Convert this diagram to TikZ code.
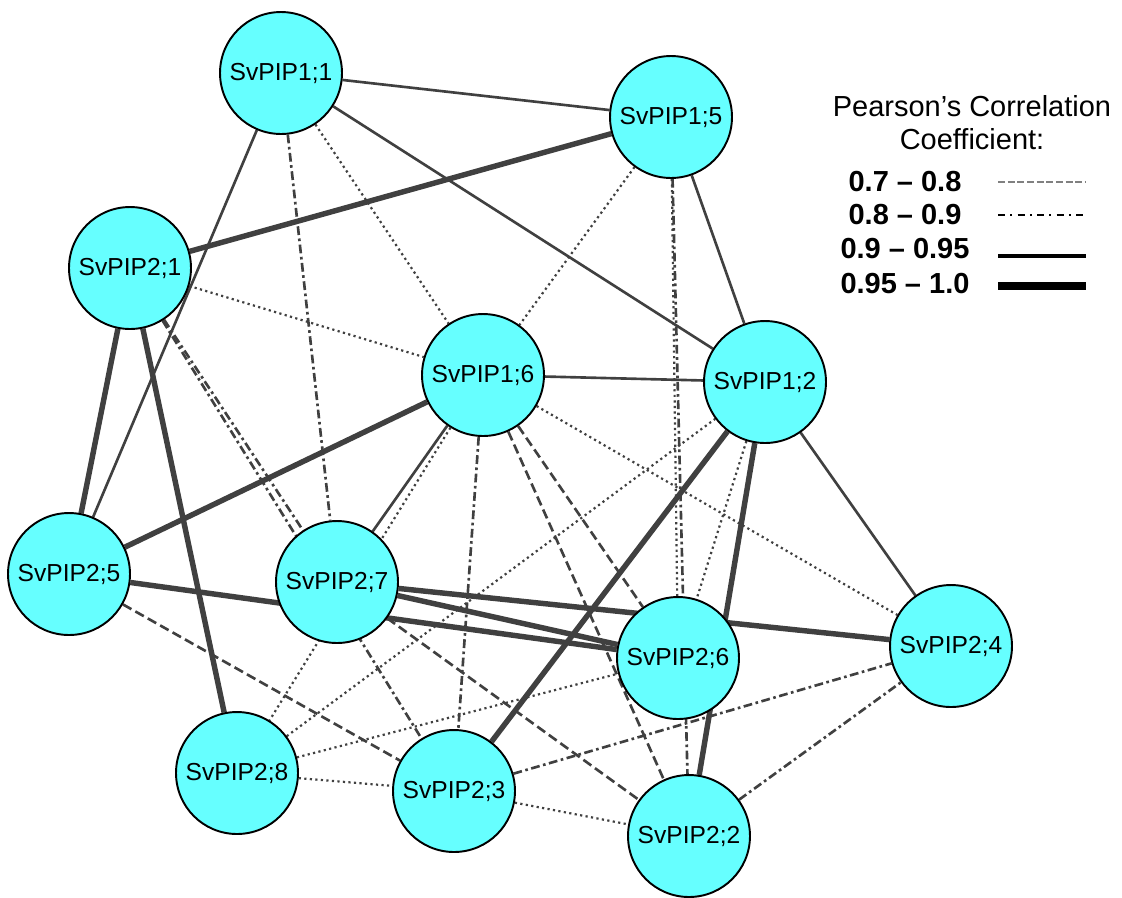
\documentclass[tikz,border=0pt]{standalone}
\usepackage{fontspec}
\setmainfont{Liberation Sans}
\usetikzlibrary{backgrounds}

\definecolor{pipcyan}{RGB}{102,255,255}
\definecolor{edgegray}{RGB}{64,64,64}

\tikzset{
  pip/.style={circle, draw=black, line width=1.1pt, fill=pipcyan, minimum size=2.44cm, inner sep=0pt, font=\fontsize{14}{16}\selectfont},
  thickedge/.style={draw=edgegray, line width=3.1pt},
  solidedge/.style={draw=edgegray, line width=1.5pt},
  dotedge/.style={draw=edgegray, line width=1.25pt, dash pattern=on 1.25pt off 1.9pt},
  dashedge/.style={draw=edgegray, line width=1.5pt, dash pattern=on 5.5pt off 2.6pt},
  dashdotedge/.style={draw=edgegray, line width=1.5pt, dash pattern=on 5pt off 2pt on 1.5pt off 2pt},
  leglabel/.style={font=\bfseries\fontsize{16.5}{19}\selectfont}
}

\begin{document}
\begin{tikzpicture}[x=0.02cm, y=-0.02cm]
\useasboundingbox (0,0) rectangle (1122,897);

\node[pip] (p11) at (281,73) {SvPIP1;1};
\node[pip] (p15) at (671,117) {SvPIP1;5};
\node[pip] (p21) at (130,268) {SvPIP2;1};
\node[pip] (p16) at (483,375) {SvPIP1;6};
\node[pip] (p12) at (765,382) {SvPIP1;2};
\node[pip] (p25) at (69,574) {SvPIP2;5};
\node[pip] (p27) at (337,582) {SvPIP2;7};
\node[pip] (p26) at (678,658) {SvPIP2;6};
\node[pip] (p24) at (951,646) {SvPIP2;4};
\node[pip] (p28) at (237,773) {SvPIP2;8};
\node[pip] (p23) at (454,791) {SvPIP2;3};
\node[pip] (p22) at (689,836) {SvPIP2;2};

\begin{scope}[on background layer]
\draw[thickedge] (p21) -- (p15);
\draw[thickedge] (p21) -- (p25);
\draw[thickedge] (p21) -- (p28);
\draw[thickedge] (p25) -- (p16);
\draw[thickedge] (p25) -- (p26);
\draw[thickedge] (p27) -- (p26);
\draw[thickedge] (p27) -- (p24);
\draw[thickedge] (p12) -- (p22);
\draw[thickedge] (p12) -- (p23);

\draw[solidedge] (p11) -- (p15);
\draw[solidedge] (p11) -- (p12);
\draw[solidedge] (p11) -- (p25);
\draw[solidedge] (p15) -- (p12);
\draw[solidedge] (p16) -- (p12);
\draw[solidedge] (p16) -- (p27);
\draw[solidedge] (p12) -- (p24);

\draw[dotedge] (p11) -- (p16);
\draw[dotedge] (p15) -- (p16);
\draw[dotedge] (p21) -- (p16);
\draw[dotedge] (p15) -- (p26);
\draw[dotedge] (p12) -- (p26);
\draw[dotedge] (p16) -- (p28);
\draw[dotedge] (p16) -- (p24);
\draw[dotedge] (p28) -- (p12);
\draw[dotedge] (p28) -- (p26);
\draw[dotedge] (p28) -- (p23);
\draw[dotedge] (p23) -- (p22);

\draw[dashedge] (p25) -- (p23);
\draw[dashedge] (p27) -- (p22);
\draw[dashedge] (p16) -- (p22);
\draw[dashedge] (p16) -- (p26);

\draw[dashdotedge] (p11) -- (p27);
\draw[dashdotedge] (p21) -- (p27);
\draw[dashdotedge] (p21) -- (p23);
\draw[dashdotedge] (p16) -- (p23);
\draw[dashdotedge] (p23) -- (p24);
\draw[dashdotedge] (p22) -- (p24);
\draw[dashdotedge] (p15) -- (p22);
\end{scope}

\node[align=center, font=\fontsize{16.5}{18.7}\selectfont] (legtitle) at (972,123) {Pearson’s Correlation\\Coefficient:};
\node[leglabel] (l1) at (905,182) {0.7 – 0.8};
\node[leglabel] (l2) at (905,215) {0.8 – 0.9};
\node[leglabel] (l3) at (905,249) {0.9 – 0.95};
\node[leglabel] (l4) at (905,284) {0.95 – 1.0};
\draw[gray, line width=1.1pt, dash pattern=on 4pt off 1.5pt] (998,182) -- (1086,182);
\draw[black, line width=1.1pt, dash pattern=on 4pt off 3pt on 1.1pt off 3pt] (998,215) -- (1086,215);
\draw[black, line width=2.2pt] (998,256) -- (1086,256);
\draw[black, line width=4.5pt] (998,286) -- (1086,286);
\end{tikzpicture}
\end{document}
